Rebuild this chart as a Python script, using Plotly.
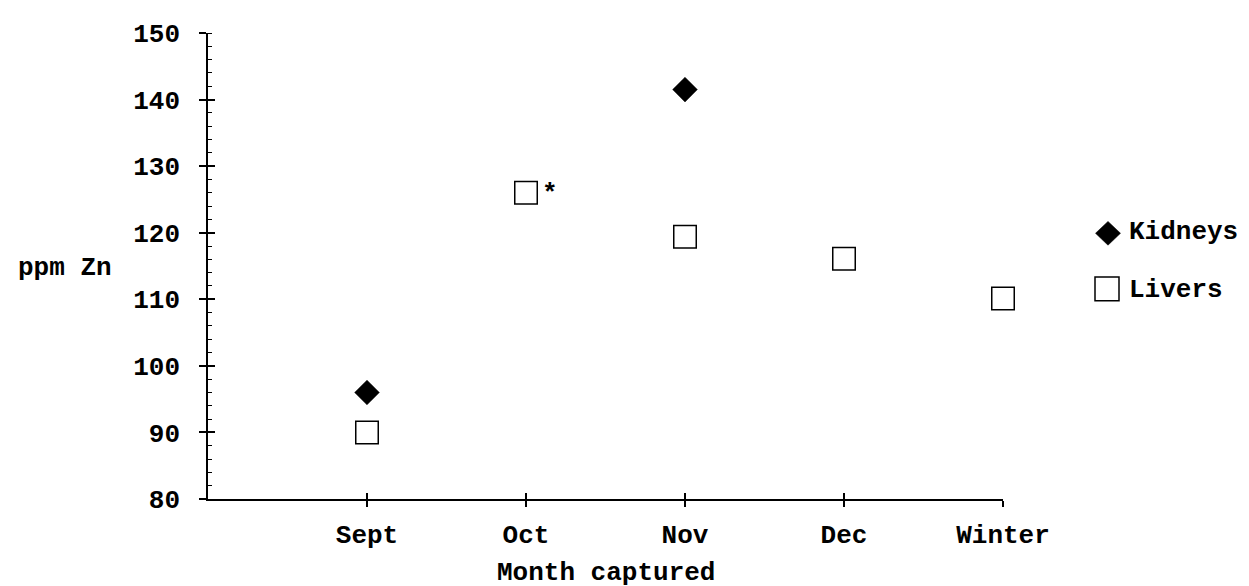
import plotly.graph_objects as go

# ---- data ----
months = ["Sept", "Oct", "Nov", "Dec", "Winter"]
kidney_months = ["Sept", "Nov"]
kidney_zn = [96.0, 141.5]
liver_months = ["Sept", "Oct", "Nov", "Dec", "Winter"]
liver_zn = [90.0, 126.0, 119.4, 116.1, 110.1]
y_ticks = [80, 90, 100, 110, 120, 130, 140, 150]
series_names = ["Kidneys", "Livers"]

FONT = "Liberation Mono"
FS = 26
W, H = 1249, 586
L, R, T, B = 200, 254, 21, 95
PW, PH = W - L - R, H - T - B


def px(xp):
    return (xp - L) / PW


def py(yp):
    return (H - B - yp) / PH


fig = go.Figure()
fig.add_trace(go.Scatter(
    x=kidney_months, y=kidney_zn, mode="markers", name=series_names[0],
    marker=dict(symbol="diamond", size=19, color="black",
                line=dict(color="black", width=0.5)),
    showlegend=False, cliponaxis=False))
fig.add_trace(go.Scatter(
    x=liver_months, y=liver_zn, mode="markers", name=series_names[1],
    marker=dict(symbol="square", size=22.5, color="white",
                line=dict(color="black", width=1.5)),
    showlegend=False, cliponaxis=False))
# helper trace for the overlay axes (crossing major ticks)
fig.add_trace(go.Scatter(x=[], y=[], xaxis="x2", yaxis="y2",
                         showlegend=False, hoverinfo="skip"))

axis_common = dict(showgrid=False, zeroline=False, color="black",
                   tickcolor="black", tickwidth=1.5)

fig.update_layout(
    width=W, height=H,
    margin=dict(l=L, r=R, t=T, b=B, pad=0),
    paper_bgcolor="white", plot_bgcolor="white",
    font=dict(family=FONT, size=FS, color="black", weight="bold"),
    xaxis=dict(type="category", categoryorder="array", categoryarray=months,
               range=[-1, 4], showline=True, linecolor="black", linewidth=1.5,
               ticks="outside", ticklen=6, ticklabelstandoff=5,
               tickfont=dict(family=FONT, size=FS, weight="bold"),
               **axis_common),
    yaxis=dict(range=[80, 150], tickvals=y_ticks, showline=True,
               linecolor="black", linewidth=1.5, ticks="outside", ticklen=7,
               ticklabelstandoff=14,
               tickfont=dict(family=FONT, size=FS, weight="bold"),
               minor=dict(ticks="inside", ticklen=4, tick0=80, dtick=2,
                          tickwidth=1, tickcolor="black", showgrid=False),
               **axis_common),
    xaxis2=dict(overlaying="x", anchor="y", side="bottom", range=[-1, 4],
                tickvals=[0, 1, 2, 3, 4], ticks="inside", ticklen=6,
                showticklabels=False, showline=False, **axis_common),
    yaxis2=dict(overlaying="y", anchor="x", side="left", range=[80, 150],
                tickvals=y_ticks, ticks="inside", ticklen=7,
                showticklabels=False, showline=False, **axis_common),
)

ann_font = dict(family=FONT, size=FS, color="black", weight="bold")
fig.add_annotation(text="ppm Zn", xref="paper", yref="paper",
                   x=px(8), y=py(258), xanchor="left", yanchor="middle",
                   showarrow=False, font=ann_font)
fig.add_annotation(text="Month captured", xref="paper", yref="paper",
                   x=0.5, y=py(566), xanchor="center", yanchor="middle",
                   showarrow=False, font=ann_font, borderpad=0)
fig.add_annotation(text="*", xref="x", yref="y", x=liver_months[1],
                   y=liver_zn[1], xshift=24, yshift=-1, xanchor="center",
                   yanchor="middle", showarrow=False, font=ann_font)

# legend (drawn manually to reproduce the large symbols)
fig.add_annotation(text=series_names[0], xref="paper", yref="paper",
                   x=px(1119), y=py(222), xanchor="left", yanchor="middle",
                   showarrow=False, font=ann_font)
fig.add_annotation(text=series_names[1], xref="paper", yref="paper",
                   x=px(1119), y=py(280), xanchor="left", yanchor="middle",
                   showarrow=False, font=ann_font)

cx, cy, hw, hh = 1100, 223, 12.5, 12
fig.add_shape(type="path", xref="paper", yref="paper",
              path=f"M {px(cx - hw)},{py(cy)} L {px(cx)},{py(cy - hh)} "
                   f"L {px(cx + hw)},{py(cy)} L {px(cx)},{py(cy + hh)} Z",
              fillcolor="black", line=dict(color="black", width=0.5))
sx, sy, hs = 1099, 279, 12
fig.add_shape(type="rect", xref="paper", yref="paper",
              x0=px(sx - hs), x1=px(sx + hs), y0=py(sy + hs), y1=py(sy - hs),
              fillcolor="white", line=dict(color="black", width=1.5))

fig.write_html("out.html")
